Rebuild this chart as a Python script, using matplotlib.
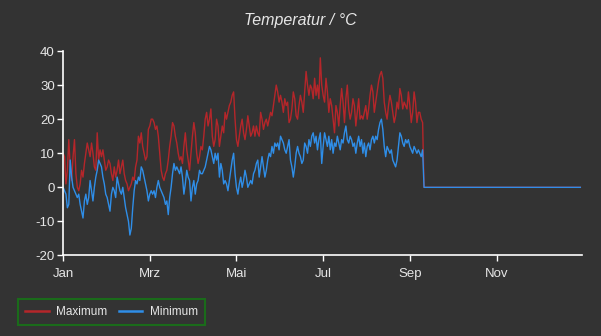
import matplotlib
matplotlib.use("Agg")
import numpy as np
import matplotlib.pyplot as plt

# daily values, day 0 = 1 Jan
t_max = [
    10, 9, 1, 5, 14, 6, 2, 9, 14, 4,
    0, -1, 1, 5, 3, 7, 10, 13, 11, 9,
    13, 10, 6, 5, 16, 8, 11, 9, 11, 8,
    5, 6, 8, 7, 4, 2, 6, 3, 5, 8,
    4, 6, 8, 4, 2, 1, -1, 0, 1, 3,
    2, 6, 8, 15, 13, 16, 12, 10, 8, 9,
    17, 18, 20, 20, 19, 17, 18, 15, 10, 5,
    3, 2, 4, 5, 8, 12, 15, 19, 18, 15,
    13, 10, 8, 9, 7, 12, 16, 11, 8, 5,
    10, 15, 19, 16, 10, 7, 9, 12, 11, 15,
    20, 22, 18, 20, 23, 15, 12, 14, 20, 18,
    12, 15, 18, 16, 22, 20, 22, 24, 25, 27,
    28, 20, 14, 12, 15, 18, 20, 16, 14, 17,
    21, 18, 15, 16, 18, 15, 18, 16, 15, 22,
    20, 17, 19, 20, 18, 20, 22, 21, 24, 27,
    30, 28, 25, 27, 25, 22, 26, 24, 25, 19,
    20, 23, 28, 26, 21, 20, 24, 27, 25, 22,
    28, 34, 30, 27, 30, 29, 26, 32, 27, 30,
    26, 38, 30, 27, 25, 32, 28, 22, 26, 24,
    20, 16, 24, 22, 18, 24, 29, 25, 19, 26,
    30, 23, 20, 22, 26, 24, 18, 22, 26, 20,
    21, 20, 22, 24, 20, 23, 27, 30, 28, 22,
    25, 28, 31, 33, 34, 32, 25, 22, 20, 24,
    27, 25, 22, 19, 21, 25, 23, 29, 27, 23,
    25, 24, 23, 28, 24, 19, 22, 28, 25, 19,
    22, 22, 20, 19,
]

t_min = [
    0, -1, -2, -6, -5, 8, 3, 0, -1, -2,
    -3, -2, -5, -7, -9, -4, -2, -5, -3, 2,
    -1, -4, 0, 3, 5, 8, 7, 6, 3, 1,
    -2, -3, -5, -7, -2, 0, -1, -3, 3, 1,
    -1, -2, 0, -3, -6, -8, -10, -14, -12, -6,
    -1, 2, 1, 3, 2, 6, 5, 3, 1, -1,
    -4, -2, -1, -2, -1, -3, 0, 2, 0, -1,
    -2, -3, -5, -4, -8, -3, 0, 4, 7, 5,
    6, 5, 4, 6, 3, -2, 1, 5, 3, 2,
    -4, 0, 2, -2, 1, 2, 5, 4, 4, 5,
    6, 8, 10, 12, 11, 9, 7, 10, 8, 10,
    3, 7, 5, 1, 2, 1, -1, 2, 5, 8,
    10, 4, 0, -2, 1, 3, 0, 2, 5, 3,
    0, 1, 2, 1, 4, 5, 7, 8, 3, 6,
    9, 6, 3, 5, 8, 10, 9, 12, 10, 13,
    12, 13, 11, 15, 14, 13, 11, 10, 12, 14,
    8, 6, 3, 6, 10, 12, 10, 9, 7, 8,
    13, 12, 10, 14, 12, 15, 16, 13, 15, 11,
    14, 16, 7, 12, 16, 14, 12, 15, 11, 14,
    10, 13, 12, 15, 13, 11, 14, 13, 16, 18,
    14, 13, 15, 14, 12, 13, 10, 13, 15, 12,
    14, 10, 13, 9, 12, 13, 11, 14, 15, 13,
    15, 14, 17, 19, 20, 17, 12, 9, 12, 11,
    10, 11, 8, 7, 6, 8, 12, 16, 15, 13,
    12, 14, 13, 14, 12, 11, 10, 12, 11, 10,
    11, 10, 9, 11,
]

# rest of the year has no readings, stored as 0
no_data = [
    0, 0, 0, 0, 0, 0, 0, 0, 0, 0, 0, 0, 0, 0, 0, 0, 0, 0, 0, 0,
    0, 0, 0, 0, 0, 0, 0, 0, 0, 0, 0, 0, 0, 0, 0, 0, 0, 0, 0, 0,
    0, 0, 0, 0, 0, 0, 0, 0, 0, 0, 0, 0, 0, 0, 0, 0, 0, 0, 0, 0,
    0, 0, 0, 0, 0, 0, 0, 0, 0, 0, 0, 0, 0, 0, 0, 0, 0, 0, 0, 0,
    0, 0, 0, 0, 0, 0, 0, 0, 0, 0, 0, 0, 0, 0, 0, 0, 0, 0, 0, 0,
    0, 0, 0, 0, 0, 0, 0, 0, 0, 0, 0,
]

month_labels = ["Jan", "Mrz", "Mai", "Jul", "Sep", "Nov"]
month_ticks = [0, 61, 122, 183, 244, 305]

bg = "#333333"
fg = "#e6e6e6"
plt.rcParams["font.family"] = ["Liberation Sans", "DejaVu Sans"]
plt.rcParams["axes.unicode_minus"] = False

y_max = np.array(t_max + no_data, dtype=float)
y_min = np.array(t_min + no_data, dtype=float)
days = np.arange(len(y_max))

fig = plt.figure(figsize=(6.01, 3.36), dpi=100, facecolor=bg)
ax = fig.add_axes([0.105, 0.2396, 0.863, 0.6086], facecolor=bg)

ax.plot(days, y_max, color="#b5262a", lw=1.0, label="Maximum")
ax.plot(days, y_min, color="#2f8ee8", lw=1.0, label="Minimum")

ax.set_xlim(0, 365)
ax.set_ylim(-20, 40)
ax.set_yticks(range(-20, 41, 10))
ax.set_xticks(month_ticks)
ax.set_xticklabels(month_labels)

for s in ["top", "right"]:
    ax.spines[s].set_visible(False)
for s in ["left", "bottom"]:
    ax.spines[s].set_color("white")
    ax.spines[s].set_linewidth(1.2)
ax.tick_params(colors="white", labelcolor=fg, labelsize=9.5, length=4, width=1)
ax.tick_params(axis="x", pad=5)
ax.tick_params(axis="y", pad=2)

fig.text(0.5, 0.94, "Temperatur / °C", color=fg, fontsize=11.5, style="italic",
         ha="center", va="center")

leg = ax.legend(loc="lower left", bbox_to_anchor=(0.030, 0.033),
                bbox_transform=fig.transFigure, ncol=2,
                frameon=True, fancybox=False, facecolor=bg, edgecolor="#147a14",
                fontsize=8.5, handlelength=2.0, handletextpad=0.6,
                columnspacing=1.0, borderpad=0.6, borderaxespad=0)
leg.get_frame().set_linewidth(1.5)
for txt in leg.get_texts():
    txt.set_color(fg)
for line in leg.get_lines():
    line.set_linewidth(1.8)

fig.savefig("out.png", dpi=100, facecolor=bg)
